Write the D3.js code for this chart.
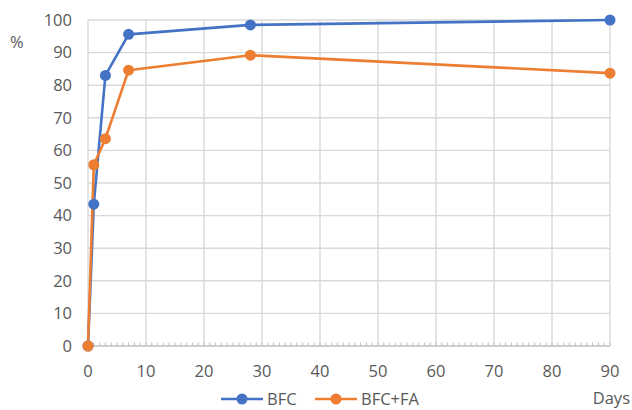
<!DOCTYPE html>
<html><head><meta charset="utf-8">
<script src="https://cdn.jsdelivr.net/npm/d3@7/dist/d3.min.js"></script>
<style>body{margin:0;background:#fff}svg{display:block}text{font-family:"Open Sans",sans-serif;fill:#595959}</style>
</head><body><svg id="c" width="632" height="410"></svg>
<script>
const days = [0, 1, 3, 7, 28, 90];
const bfc = [0, 43.5, 83, 95.6, 98.5, 100];
const bfcFa = [0, 55.6, 63.6, 84.6, 89.2, 83.7];
const seriesNames = ["BFC", "BFC+FA"];
const seriesColors = ["#4472C4", "#ED7D31"];
const xTicks = [0, 10, 20, 30, 40, 50, 60, 70, 80, 90];
const yTicks = [0, 10, 20, 30, 40, 50, 60, 70, 80, 90, 100];

const svg = d3.select("#c");
const x = d3.scaleLinear().domain([0, 90]).range([88, 610]);
const y = d3.scaleLinear().domain([0, 100]).range([346, 20]);
const grid = "#d9d9d9";
const fs = 16.5;

svg.append("g").selectAll("line").data(yTicks.slice(1)).join("line")
  .attr("x1", x(0)).attr("x2", x(90)).attr("y1", d => y(d)).attr("y2", d => y(d))
  .attr("stroke", grid).attr("stroke-width", 1.4);
svg.append("g").selectAll("line").data(xTicks).join("line")
  .attr("x1", d => x(d)).attr("x2", d => x(d)).attr("y1", y(0)).attr("y2", y(100))
  .attr("stroke", grid).attr("stroke-width", 1.4);
svg.append("g").selectAll("line").data(d3.range(0, 91)).join("line")
  .attr("x1", d => x(d)).attr("x2", d => x(d)).attr("y1", y(0) - 3.5).attr("y2", y(0))
  .attr("stroke", "#bfbfbf").attr("stroke-width", 1);
svg.append("line").attr("x1", x(0)).attr("x2", x(90)).attr("y1", y(0)).attr("y2", y(0))
  .attr("stroke", "#bfbfbf").attr("stroke-width", 1.4);

svg.append("g").selectAll("text").data(yTicks).join("text")
  .attr("x", 72).attr("y", d => y(d)).attr("dy", "0.35em").attr("text-anchor", "end")
  .attr("font-size", fs).text(d => d);
svg.append("g").selectAll("text").data(xTicks).join("text")
  .attr("x", d => x(d)).attr("y", 371).attr("dy", "0.35em").attr("text-anchor", "middle")
  .attr("font-size", fs).text(d => d);
svg.append("text").attr("x", 10).attr("y", 42).attr("dy", "0.35em").attr("font-size", fs).text("%");
svg.append("text").attr("x", 630).attr("y", 398).attr("dy", "0.35em").attr("text-anchor", "end")
  .attr("font-size", fs).text("Days");

const allSeries = [bfc, bfcFa];
const line = d3.line().x((d, i) => x(days[i])).y(d => y(d));
allSeries.forEach((vals, s) => {
  svg.append("path").datum(vals).attr("d", line).attr("fill", "none")
    .attr("stroke", seriesColors[s]).attr("stroke-width", 2.6).attr("stroke-linejoin", "round");
});
allSeries.forEach((vals, s) => {
  svg.append("g").selectAll("circle").data(vals).join("circle")
    .attr("cx", (d, i) => x(days[i])).attr("cy", d => y(d)).attr("r", 5.5)
    .attr("fill", seriesColors[s]);
});

const legX = [221, 315];
seriesNames.forEach((n, s) => {
  const g = svg.append("g").attr("transform", `translate(${legX[s]},399)`);
  g.append("line").attr("x1", 0).attr("x2", 42).attr("stroke", seriesColors[s]).attr("stroke-width", 2.6);
  g.append("circle").attr("cx", 21).attr("r", 5.5).attr("fill", seriesColors[s]);
  g.append("text").attr("x", 46).attr("dy", "0.35em").attr("font-size", fs).text(n);
});
</script></body></html>
